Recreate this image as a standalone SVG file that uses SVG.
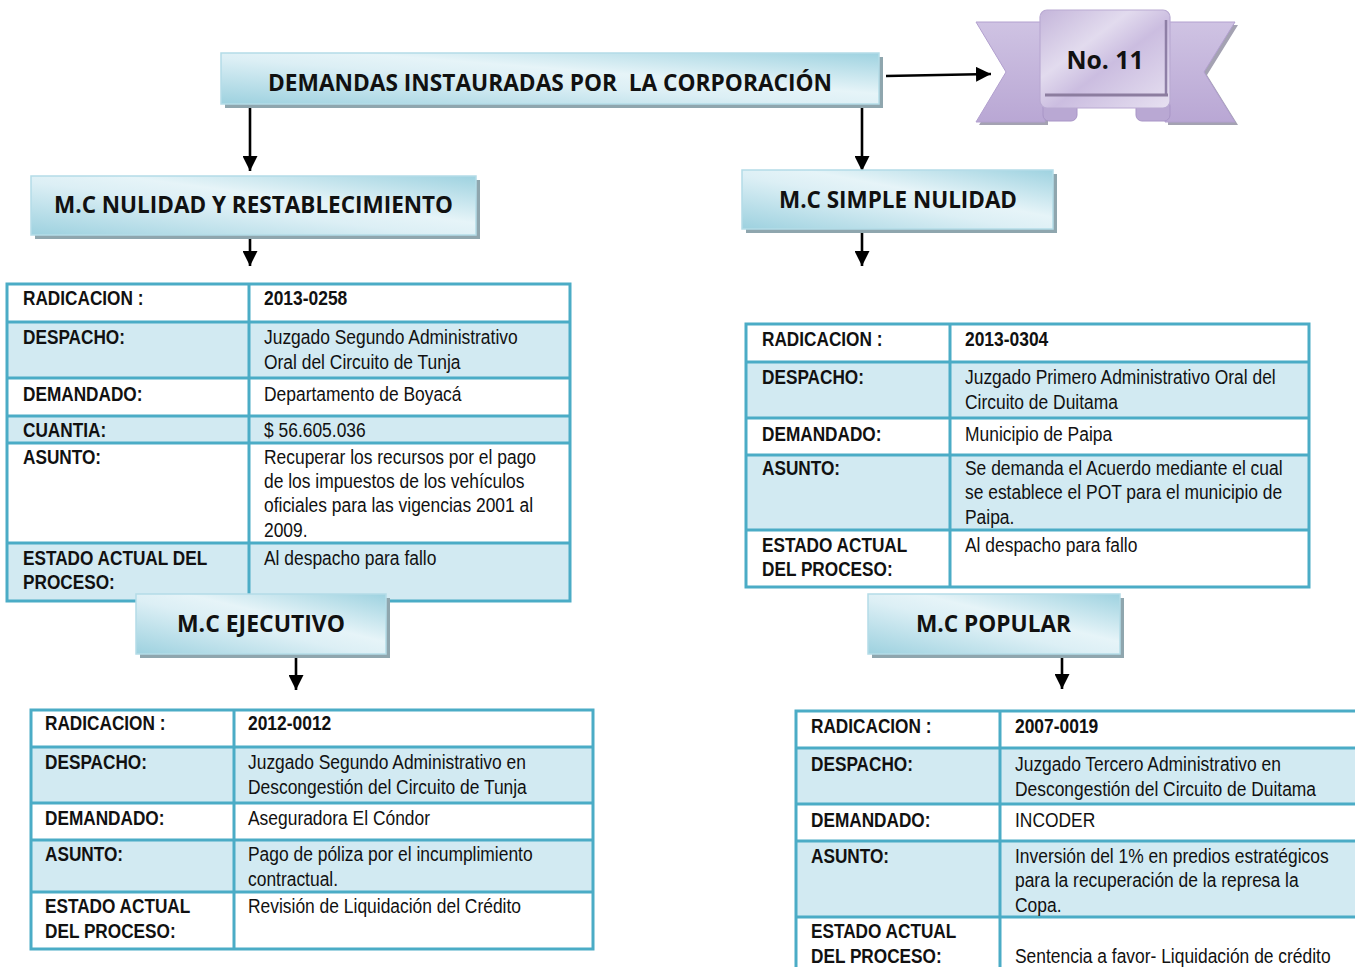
<svg xmlns="http://www.w3.org/2000/svg" width="1355" height="967" viewBox="0 0 1355 967">
<style>
.hdr{font-family:"Open Sans",Lato,"Liberation Sans",sans-serif;font-weight:700;fill:#111;text-anchor:middle}
.lb{font-family:"Liberation Sans",Arial,sans-serif;font-weight:700;font-size:21px;fill:#111}
.vl{font-family:"Liberation Sans",Arial,sans-serif;font-size:21px;fill:#111}
.vb{font-family:"Liberation Sans",Arial,sans-serif;font-weight:700;font-size:21px;fill:#111}
.grid{stroke:#4BACC6;stroke-width:3;fill:none}
.lt{fill:#D2EAF2}
.wh{fill:#FFFFFF}
.box{fill:url(#hg);stroke:#B4DCE7;stroke-width:1.5}
.shd{fill:#8FA6AE}
.con{stroke:#000;stroke-width:2.6;fill:none;marker-end:url(#ah)}
</style>
<defs>
<linearGradient id="hg" x1="0" y1="1" x2="1" y2="0">
<stop offset="0" stop-color="#9DD1DF"/>
<stop offset="0.45" stop-color="#DCEFF5"/>
<stop offset="0.6" stop-color="#E6F4F8"/>
<stop offset="1" stop-color="#9ED2E0"/>
</linearGradient>
<linearGradient id="tg" x1="0" y1="0" x2="0" y2="1">
<stop offset="0" stop-color="#CFC3E3"/>
<stop offset="1" stop-color="#B9A7D4"/>
</linearGradient>
<linearGradient id="pg" x1="0" y1="0" x2="1" y2="1">
<stop offset="0" stop-color="#C4B5DA"/>
<stop offset="0.35" stop-color="#E2DBEE"/>
<stop offset="0.55" stop-color="#CBBDE0"/>
<stop offset="1" stop-color="#E7E1F1"/>
</linearGradient>
<marker id="ah" markerWidth="15" markerHeight="15" refX="15" refY="7.5" orient="auto" markerUnits="userSpaceOnUse">
<path d="M0,0 L15,7.5 L0,15 z" fill="#000"/>
</marker>
</defs>

<g id="connectors">
<line class="con" x1="250" y1="105" x2="250" y2="171"/>
<line class="con" x1="862" y1="105" x2="862" y2="171"/>
<line class="con" x1="886" y1="76" x2="991" y2="74"/>
<line class="con" x1="250" y1="230" x2="250" y2="266"/>
<line class="con" x1="862" y1="233" x2="862" y2="266"/>
<line class="con" x1="296" y1="652" x2="296" y2="690"/>
<line class="con" x1="1062" y1="652" x2="1062" y2="689"/>
</g>

<g id="title">
<rect class="shd" x="225" y="57" width="658" height="51"/>
<rect class="box" x="221" y="53" width="658" height="51"/>
<text class="hdr" x="550" y="91" font-size="24" textLength="564" lengthAdjust="spacingAndGlyphs">DEMANDAS INSTAURADAS POR&#160; LA CORPORACIÓN</text>
</g>

<g id="ribbon">
<polygon points="979,25 1048,25 1048,125 979,125 1009,75" fill="#A4A2B2"/>
<polygon points="1238,25 1168,25 1168,125 1238,125 1207,75" fill="#A4A2B2"/>
<polygon points="976,22 1045,22 1045,122 976,122 1006,72" fill="url(#tg)" stroke="#B2A0CF" stroke-width="1"/>
<polygon points="1235,22 1165,22 1165,122 1235,122 1204,72" fill="url(#tg)" stroke="#B2A0CF" stroke-width="1"/>
<rect x="1043" y="100" width="34" height="21" rx="6" fill="#B9A8D3" stroke="#A996C7" stroke-width="1"/>
<rect x="1136" y="100" width="34" height="21" rx="6" fill="#B9A8D3" stroke="#A996C7" stroke-width="1"/>
<rect x="1040" y="10" width="130" height="98" rx="7" fill="url(#pg)" stroke="#B9AAD2" stroke-width="1.2"/>
<line x1="1166" y1="20" x2="1166" y2="96" stroke="#8E7FA6" stroke-width="2.5"/>
<line x1="1045" y1="95" x2="1168" y2="95" stroke="#8C7D9F" stroke-width="3"/>
<text class="hdr" x="1105" y="69" font-size="25" textLength="77" lengthAdjust="spacingAndGlyphs">No. 11</text>
</g>

<g id="hdr-nulidad-restablecimiento">
<rect class="shd" x="35" y="180" width="445" height="59"/>
<rect class="box" x="31" y="176" width="445" height="59"/>
<text class="hdr" x="253.5" y="213" font-size="23" textLength="399" lengthAdjust="spacingAndGlyphs">M.C NULIDAD Y RESTABLECIMIENTO</text>
</g>

<g id="hdr-simple-nulidad">
<rect class="shd" x="746" y="174" width="311" height="59"/>
<rect class="box" x="742" y="170" width="311" height="59"/>
<text class="hdr" x="898" y="208" font-size="23" textLength="238" lengthAdjust="spacingAndGlyphs">M.C SIMPLE NULIDAD</text>
</g>

<g id="table-nulidad-restablecimiento">
<rect class="wh" x="7" y="284" width="563" height="38"/>
<rect class="lt" x="7" y="322" width="563" height="56"/>
<rect class="wh" x="7" y="378" width="563" height="38"/>
<rect class="lt" x="7" y="416" width="563" height="27"/>
<rect class="wh" x="7" y="443" width="563" height="100"/>
<rect class="lt" x="7" y="543" width="563" height="58"/>
<path class="grid" d="M7,284H570V601H7Z M7,322H570 M7,378H570 M7,416H570 M7,443H570 M7,543H570 M249,284V601"/>
<g transform="translate(23 0) scale(0.82 1)">
<text class="lb" x="0" y="305">RADICACION :</text>
<text class="lb" x="0" y="344">DESPACHO:</text>
<text class="lb" x="0" y="401">DEMANDADO:</text>
<text class="lb" x="0" y="437">CUANTIA:</text>
<text class="lb" x="0" y="464">ASUNTO:</text>
<text class="lb" x="0" y="565">ESTADO ACTUAL DEL</text>
<text class="lb" x="0" y="589">PROCESO:</text>
</g>
<g transform="translate(264 0) scale(0.83 1)">
<text class="vb" x="0" y="305">2013-0258</text>
<text class="vl" x="0" y="344">Juzgado Segundo Administrativo</text>
<text class="vl" x="0" y="369">Oral del Circuito de Tunja</text>
<text class="vl" x="0" y="401">Departamento de Boyacá</text>
<text class="vl" x="0" y="437">$ 56.605.036</text>
<text class="vl" x="0" y="464">Recuperar los recursos por el pago</text>
<text class="vl" x="0" y="488">de los impuestos de los vehículos</text>
<text class="vl" x="0" y="512">oficiales para las vigencias 2001 al</text>
<text class="vl" x="0" y="537">2009.</text>
<text class="vl" x="0" y="565">Al despacho para fallo</text>
</g>
</g>

<g id="table-simple-nulidad">
<rect class="wh" x="746" y="324" width="563" height="38"/>
<rect class="lt" x="746" y="362" width="563" height="56"/>
<rect class="wh" x="746" y="418" width="563" height="37"/>
<rect class="lt" x="746" y="455" width="563" height="75"/>
<rect class="wh" x="746" y="530" width="563" height="57"/>
<path class="grid" d="M746,324H1309V587H746Z M746,362H1309 M746,418H1309 M746,455H1309 M746,530H1309 M950,324V587"/>
<g transform="translate(762 0) scale(0.82 1)">
<text class="lb" x="0" y="346">RADICACION :</text>
<text class="lb" x="0" y="384">DESPACHO:</text>
<text class="lb" x="0" y="441">DEMANDADO:</text>
<text class="lb" x="0" y="475">ASUNTO:</text>
<text class="lb" x="0" y="552">ESTADO ACTUAL</text>
<text class="lb" x="0" y="576">DEL PROCESO:</text>
</g>
<g transform="translate(965 0) scale(0.83 1)">
<text class="vb" x="0" y="346">2013-0304</text>
<text class="vl" x="0" y="384">Juzgado Primero Administrativo Oral del</text>
<text class="vl" x="0" y="409">Circuito de Duitama</text>
<text class="vl" x="0" y="441">Municipio de Paipa</text>
<text class="vl" x="0" y="475">Se demanda el Acuerdo mediante el cual</text>
<text class="vl" x="0" y="499">se establece el POT para el municipio de</text>
<text class="vl" x="0" y="524">Paipa.</text>
<text class="vl" x="0" y="552">Al despacho para fallo</text>
</g>
</g>

<g id="hdr-ejecutivo">
<rect class="shd" x="140" y="598" width="250" height="60"/>
<rect class="box" x="136" y="594" width="250" height="60"/>
<text class="hdr" x="261" y="632" font-size="23" textLength="168" lengthAdjust="spacingAndGlyphs">M.C EJECUTIVO</text>
</g>

<g id="hdr-popular">
<rect class="shd" x="872" y="598" width="252" height="60"/>
<rect class="box" x="868" y="594" width="252" height="60"/>
<text class="hdr" x="993.5" y="632" font-size="23" textLength="155" lengthAdjust="spacingAndGlyphs">M.C POPULAR</text>
</g>

<g id="table-ejecutivo">
<rect class="wh" x="31" y="710" width="562" height="37"/>
<rect class="lt" x="31" y="747" width="562" height="56"/>
<rect class="wh" x="31" y="803" width="562" height="37"/>
<rect class="lt" x="31" y="840" width="562" height="52"/>
<rect class="wh" x="31" y="892" width="562" height="57"/>
<path class="grid" d="M31,710H593V949H31Z M31,747H593 M31,803H593 M31,840H593 M31,892H593 M234,710V949"/>
<g transform="translate(45 0) scale(0.82 1)">
<text class="lb" x="0" y="730">RADICACION :</text>
<text class="lb" x="0" y="769">DESPACHO:</text>
<text class="lb" x="0" y="825">DEMANDADO:</text>
<text class="lb" x="0" y="861">ASUNTO:</text>
<text class="lb" x="0" y="913">ESTADO ACTUAL</text>
<text class="lb" x="0" y="938">DEL PROCESO:</text>
</g>
<g transform="translate(248 0) scale(0.83 1)">
<text class="vb" x="0" y="730">2012-0012</text>
<text class="vl" x="0" y="769">Juzgado Segundo Administrativo en</text>
<text class="vl" x="0" y="794">Descongestión del Circuito de Tunja</text>
<text class="vl" x="0" y="825">Aseguradora El Cóndor</text>
<text class="vl" x="0" y="861">Pago de póliza por el incumplimiento</text>
<text class="vl" x="0" y="886">contractual.</text>
<text class="vl" x="0" y="913">Revisión de Liquidación del Crédito</text>
</g>
</g>

<g id="table-popular">
<rect class="wh" x="796" y="711" width="562" height="37"/>
<rect class="lt" x="796" y="748" width="562" height="56"/>
<rect class="wh" x="796" y="804" width="562" height="37"/>
<rect class="lt" x="796" y="841" width="562" height="76"/>
<rect class="wh" x="796" y="917" width="562" height="55"/>
<path class="grid" d="M1358,711H796V972 M796,748H1358 M796,804H1358 M796,841H1358 M796,917H1358 M1000,711V972"/>
<g transform="translate(811 0) scale(0.82 1)">
<text class="lb" x="0" y="733">RADICACION :</text>
<text class="lb" x="0" y="771">DESPACHO:</text>
<text class="lb" x="0" y="827">DEMANDADO:</text>
<text class="lb" x="0" y="863">ASUNTO:</text>
<text class="lb" x="0" y="938">ESTADO ACTUAL</text>
<text class="lb" x="0" y="963">DEL PROCESO:</text>
</g>
<g transform="translate(1015 0) scale(0.83 1)">
<text class="vb" x="0" y="733">2007-0019</text>
<text class="vl" x="0" y="771">Juzgado Tercero Administrativo en</text>
<text class="vl" x="0" y="796">Descongestión del Circuito de Duitama</text>
<text class="vl" x="0" y="827">INCODER</text>
<text class="vl" x="0" y="863">Inversión del 1% en predios estratégicos</text>
<text class="vl" x="0" y="887">para la recuperación de la represa la</text>
<text class="vl" x="0" y="912">Copa.</text>
<text class="vl" x="0" y="963">Sentencia a favor- Liquidación de crédito</text>
</g>
</g>
</svg>
